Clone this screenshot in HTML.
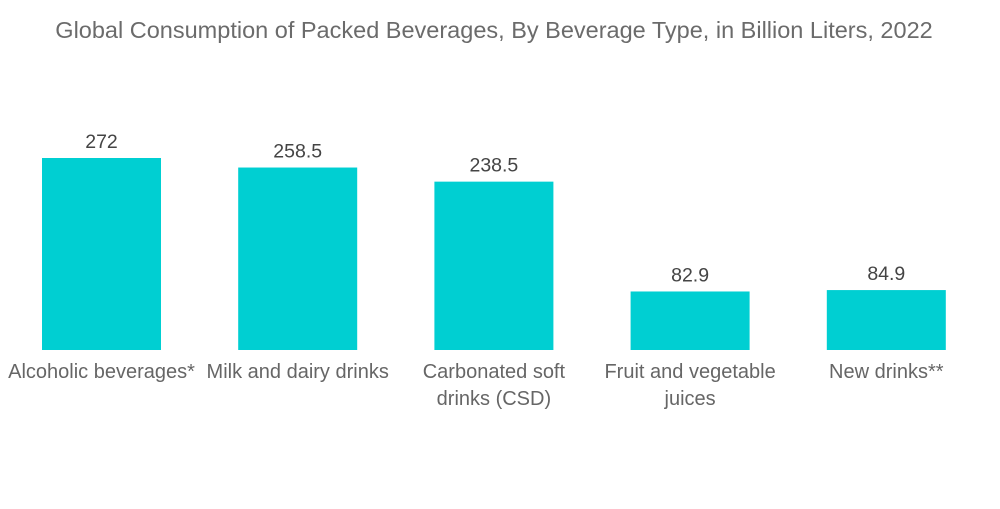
<!DOCTYPE html>
<html><head><meta charset="utf-8">
<style>
html,body{margin:0;padding:0;background:#fff;}
body{width:1000px;height:504px;overflow:hidden;font-family:"Liberation Sans",sans-serif;}
</style></head>
<body>
<svg id="chart" width="1000" height="504" xmlns="http://www.w3.org/2000/svg">
<text x="494" y="38" text-anchor="middle" font-size="23.5" fill="#6b6b6b" font-family="Liberation Sans, sans-serif">Global Consumption of Packed Beverages, By Beverage Type, in Billion Liters, 2022</text>
</svg>
<script>
const categories = [["Alcoholic beverages*"],["Milk and dairy drinks"],["Carbonated soft","drinks (CSD)"],["Fruit and vegetable","juices"],["New drinks**"]];
const values = [272, 258.5, 238.5, 82.9, 84.9];
const valueLabels = ["272","258.5","238.5","82.9","84.9"];

const svg = document.getElementById('chart');
const NS = "http://www.w3.org/2000/svg";
const baseY = 350, pxPerUnit = 192/272;
const x0 = 42, step = 196.2, barW = 119;
function yScale(v){ return baseY - v*pxPerUnit; }
function xScale(i){ return x0 + i*step; }

values.forEach((v,i)=>{
  const r = document.createElementNS(NS,'rect');
  
  
  r.setAttribute('x', xScale(i));
  r.setAttribute('y', yScale(v));
  r.setAttribute('width', barW);
  r.setAttribute('height', baseY - yScale(v));
  r.setAttribute('fill','#00cfd2');
  svg.appendChild(r);

  const t = document.createElementNS(NS,'text');
  
  
  t.setAttribute('x', xScale(i)+barW/2);
  t.setAttribute('y', yScale(v)-10);
  t.setAttribute('text-anchor','middle');
  t.setAttribute('font-size','19.5');
  t.setAttribute('fill','#444');
  t.textContent = valueLabels[i];
  svg.appendChild(t);

  categories[i].forEach((line,j)=>{
    const c = document.createElementNS(NS,'text');
    
    
    c.setAttribute('x', xScale(i)+barW/2);
    c.setAttribute('y', 378 + j*27);
    c.setAttribute('text-anchor','middle');
    c.setAttribute('font-size','20');
    c.setAttribute('fill','#666');
    c.textContent = line;
    svg.appendChild(c);
  });
});
</script>
</body></html>
